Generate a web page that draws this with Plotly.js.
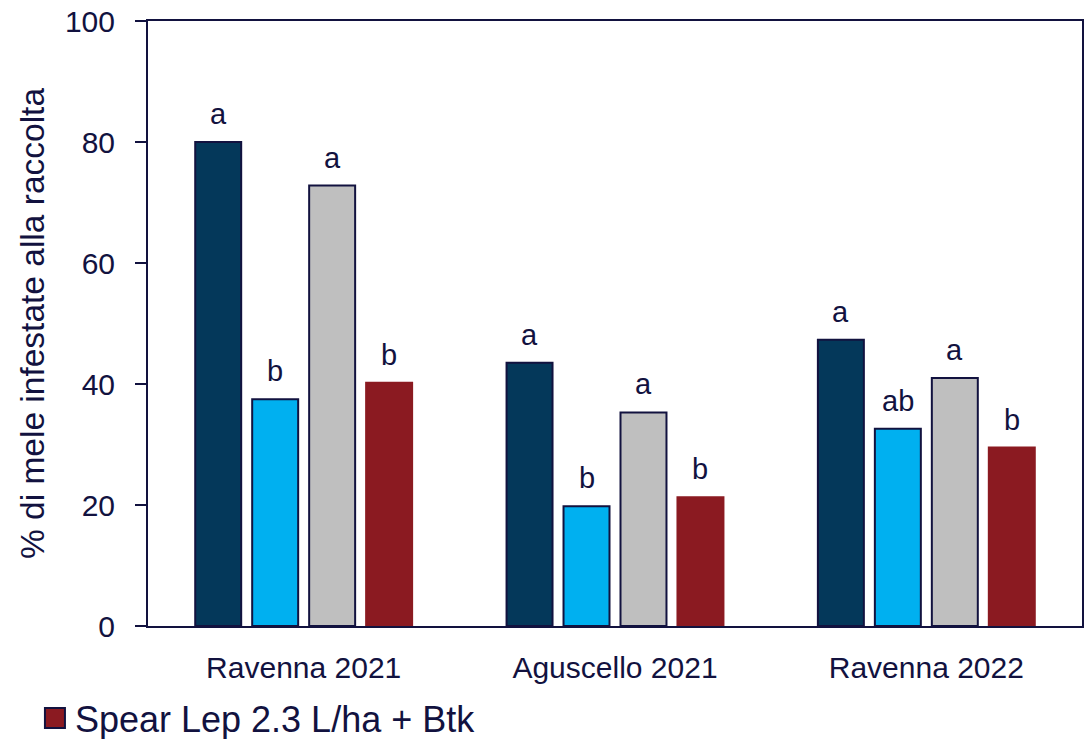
<!DOCTYPE html>
<html>
<head>
<meta charset="utf-8">
<script src="https://cdn.plot.ly/plotly-3.0.1.min.js"></script>
<style>
  html, body { margin: 0; padding: 0; background: #ffffff; }
  #chart { width: 1092px; height: 739px; }
</style>
</head>
<body>
<div id="chart"></div>
<script>
// Sites / seasons on the x axis
const sites = ['Ravenna 2021', 'Aguscello 2021', 'Ravenna 2022'];

// % of infested apples at harvest, one array per treatment
const serie1 = [80.0, 43.5, 47.3];
const serie2 = [37.5, 19.8, 32.6];
const serie3 = [72.8, 35.3, 41.0];
const serie4 = [40.2, 21.3, 29.5];

// Significance letters above each bar
const lettere1 = ['a', 'a', 'a'];
const lettere2 = ['b', 'b', 'ab'];
const lettere3 = ['a', 'a', 'a'];
const lettere4 = ['b', 'b', 'b'];

const legendName = 'Spear Lep 2.3 L/ha + Btk';

const ink = '#12123f';
const font = 'Liberation Sans, Arial, sans-serif';

const BARGAP = 0.268;
const GROUPGAP = 0.193;

const series = [
  { y: serie1, letters: lettere1, color: '#04385a', line: ink, show: false, name: 'serie 1' },
  { y: serie2, letters: lettere2, color: '#00b0f0', line: ink, show: false, name: 'serie 2' },
  { y: serie3, letters: lettere3, color: '#bfbfbf', line: ink, show: false, name: 'serie 3' },
  { y: serie4, letters: lettere4, color: '#8b1a21', line: '#8b1a21', show: true, name: legendName }
];

const traces = series.map(s => ({
  type: 'bar',
  x: sites,
  y: s.y,
  name: s.name,
  showlegend: s.show,
  marker: { color: s.color, line: { color: s.line, width: 2 } },
  hoverinfo: 'x+y'
}));

// Letter annotations centred on each bar of the group
const nSeries = series.length;
const slot = (1 - BARGAP) / nSeries;
const annotations = [];
series.forEach((s, j) => {
  s.y.forEach((v, i) => {
    annotations.push({
      x: i + (j - (nSeries - 1) / 2) * slot,
      y: v,
      xref: 'x', yref: 'y',
      text: s.letters[i],
      showarrow: false,
      yanchor: 'bottom',
      yshift: 10,
      font: { family: font, size: 29, color: ink }
    });
  });
});

const layout = {
  width: 1092,
  height: 739,
  margin: { l: 148, r: 10, t: 21, b: 113 },
  paper_bgcolor: '#ffffff',
  plot_bgcolor: '#ffffff',
  font: { family: font, color: ink },
  barmode: 'group',
  bargap: BARGAP,
  bargroupgap: GROUPGAP,
  xaxis: {
    type: 'category',
    range: [-0.5, 2.5],
    showline: true, linecolor: ink, linewidth: 2, mirror: true,
    ticks: '', showgrid: false, zeroline: false,
    ticklabelstandoff: 14,
    tickfont: { family: font, size: 30, color: ink }
  },
  yaxis: {
    range: [0, 100],
    dtick: 20,
    showline: true, linecolor: ink, linewidth: 2, mirror: true,
    ticks: 'outside', ticklen: 11, tickwidth: 2, tickcolor: ink,
    showgrid: false, zeroline: false,
    ticklabelstandoff: 14,
    tickfont: { family: font, size: 30, color: ink },
    title: { text: '% di mele infestate alla raccolta', standoff: 10,
             font: { family: font, size: 33.5, color: ink } }
  },
  showlegend: true,
  legend: {
    orientation: 'h',
    xref: 'container', yref: 'container',
    x: 0.032, xanchor: 'left',
    y: 0.069, yanchor: 'top',
    bgcolor: 'rgba(0,0,0,0)',
    font: { family: font, size: 36, color: ink }
  },
  annotations: annotations
};

Plotly.newPlot('chart', traces, layout, { staticPlot: true, displayModeBar: false }).then(gd => {
  // Larger, outlined legend swatch
  gd.querySelectorAll('.legend .legendpoints path').forEach(p => {
    p.setAttribute('d', 'M10,10H-10V-10H10Z');
    p.style.stroke = ink;
    p.style.strokeWidth = '2px';
  });
});
</script>
</body>
</html>
